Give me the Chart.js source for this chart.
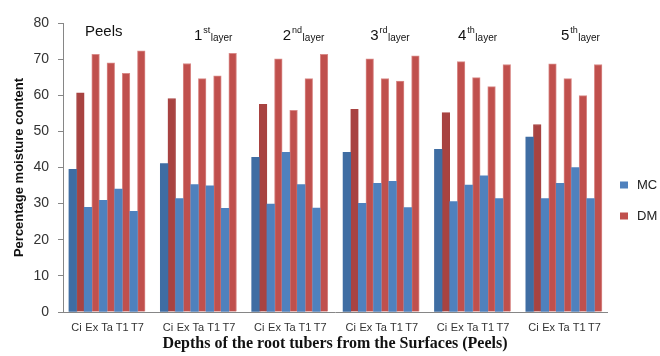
<!DOCTYPE html>
<html><head><meta charset="utf-8">
<script src="https://cdn.jsdelivr.net/npm/chart.js@4/dist/chart.umd.min.js"></script>
<style>html,body{margin:0;padding:0;background:#fff}#wrap{width:660px;height:356px;position:relative}canvas{display:block}</style>
</head><body><div id="wrap"><canvas id="c" width="660" height="356"></canvas></div>
<script>
// ---- data ----
const treatments = ['Ci', 'Ex', 'Ta', 'T1', 'T7'];
const groupMain = ['Peels', '1', '2', '3', '4', '5'];
const groupSup  = ['', 'st', 'nd', 'rd', 'th', 'th'];
const groupSub  = ['', 'layer', 'layer', 'layer', 'layer', 'layer'];
const seriesNames = ['MC', 'DM'];
const mcPeels = [39.5, 29.0, 30.9, 34.0, 27.9];
const mcL1    = [41.1, 31.4, 35.3, 34.9, 28.7];
const mcL2    = [42.8, 29.9, 44.2, 35.3, 28.8];
const mcL3    = [44.2, 30.1, 35.6, 36.2, 28.9];
const mcL4    = [45.0, 30.6, 35.1, 37.7, 31.4];
const mcL5    = [48.4, 31.4, 35.6, 40.0, 31.4];
const dmPeels = [60.7, 71.3, 69.0, 66.1, 72.3];
const dmL1    = [59.1, 68.8, 64.6, 65.4, 71.6];
const dmL2    = [57.5, 70.1, 55.8, 64.6, 71.3];
const dmL3    = [56.1, 70.1, 64.6, 63.9, 70.9];
const dmL4    = [55.2, 69.3, 64.9, 62.4, 68.5];
const dmL5    = [51.9, 68.7, 64.6, 59.9, 68.5];
const yTicks = [0, 10, 20, 30, 40, 50, 60, 70, 80];

// ---- build table (a blank slot separates the depth groups) ----
const mcGroups = [mcPeels, mcL1, mcL2, mcL3, mcL4, mcL5];
const dmGroups = [dmPeels, dmL1, dmL2, dmL3, dmL4, dmL5];
const labels = [], mcData = [], dmData = [], slotIdx = [];
mcGroups.forEach((g, gi) => {
  g.forEach((v, i) => { labels.push(treatments[i]); mcData.push(v); dmData.push(dmGroups[gi][i]); slotIdx.push(i); });
  if (gi < mcGroups.length - 1) { labels.push(''); mcData.push(null); dmData.push(null); slotIdx.push(-1); }
});

// ---- styles ----
const BLUE = '#4F81BD', BLUE_D = '#3F6DA3', RED = '#C0504D', RED_D = '#A84341';
const AXIS = '#868686', TXT = '#333333';
const SANS = "'Liberation Sans', Arial, sans-serif";
const labelOffsets = [-22, -4.5, -7, -11, -14.5, -3];
const edgePad = { left: 0.39, right: 0.33 }; // extra room (in slots) at the axis ends

const annot = {
  id: 'annot',
  afterDraw(chart) {
    const ctx = chart.ctx, xs = chart.scales.x;
    ctx.save();
    ctx.fillStyle = '#111';
    ctx.textBaseline = 'alphabetic';
    ctx.textAlign = 'left';
    groupMain.forEach((m, g) => {
      let x = xs.getPixelForValue(g * 6 + 2) + labelOffsets[g];
      ctx.font = '15px ' + SANS;
      ctx.fillText(m, x, g === 0 ? 36 : 39.5);
      x += ctx.measureText(m).width + 1;
      if (groupSup[g]) {
        ctx.font = '9px ' + SANS;
        ctx.fillText(groupSup[g], x, 32.5);
        x += ctx.measureText(groupSup[g]).width + 0.5;
        ctx.font = '10px ' + SANS;
        ctx.fillText(groupSub[g], x, 40.5);
      }
    });
    // legend
    const cols = [BLUE, RED];
    const ys = [185, 216];
    ctx.font = '13px ' + SANS;
    ctx.textBaseline = 'middle';
    seriesNames.forEach((n, i) => {
      ctx.fillStyle = cols[i];
      ctx.fillRect(620, ys[i] - 3.5, 8, 7);
      ctx.fillStyle = '#222';
      ctx.fillText(n, 637, ys[i] + 0.5);
    });
    ctx.restore();
  }
};

new Chart(document.getElementById('c'), {
  type: 'bar',
  data: {
    labels,
    datasets: [
      { label: seriesNames[0], data: mcData,
        backgroundColor: mcData.map((v, i) => slotIdx[i] === 0 ? BLUE_D : BLUE) },
      { label: seriesNames[1], data: dmData,
        backgroundColor: dmData.map((v, i) => slotIdx[i] === 0 ? RED_D : RED),
        borderColor: dmData.map((v, i) => slotIdx[i] === 0 ? RED_D : '#D98A88'),
        borderWidth: { left: 1, right: 1, top: 1, bottom: 0 } }
    ]
  },
  plugins: [annot],
  options: {
    responsive: false,
    animation: false,
    devicePixelRatio: 1,
    layout: { padding: { top: 23, right: 53, left: 0, bottom: 0 } },
    datasets: { bar: { categoryPercentage: 1, barPercentage: 1 } },
    plugins: { legend: { display: false }, tooltip: { enabled: false } },
    scales: {
      x: {
        grid: { display: false, drawTicks: false },
        border: { color: AXIS, width: 1 },
        ticks: { autoSkip: false, maxRotation: 0, minRotation: 0, padding: 9,
                 color: TXT, font: { family: SANS, size: 11 } },
        title: { display: true, text: 'Depths of the root tubers from the Surfaces (Peels)',
                 color: '#111', padding: { top: 0, bottom: 3 },
                 font: { family: "'Liberation Serif', 'Times New Roman', serif", size: 16, weight: 'bold' } },
        afterBuildTicks: s => {
          if (typeof s._startValue === 'number') {
            s._startValue -= edgePad.left;
            s._valueRange += edgePad.left + edgePad.right;
          }
        },
        afterFit: s => { s.height = 44; }
      },
      y: {
        min: 0, max: 80,
        afterBuildTicks: s => { s.ticks = yTicks.map(v => ({ value: v })); },
        grid: { drawOnChartArea: false, drawTicks: true, tickLength: 5, color: AXIS },
        border: { color: AXIS, width: 1 },
        ticks: { padding: 9, color: TXT, font: { family: SANS, size: 14 } },
        title: { display: true, text: 'Percentage moisture content', color: '#111',
                 padding: { top: 12, bottom: 0 },
                 font: { family: SANS, size: 13, weight: 'bold' } },
        afterFit: s => { s.width = 63; }
      }
    }
  }
});
</script></body></html>
